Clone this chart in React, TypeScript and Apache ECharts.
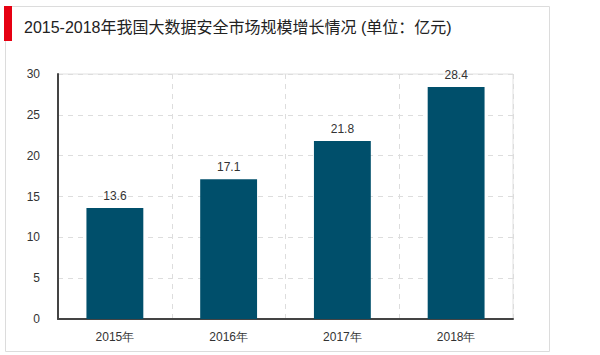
import React, { useEffect, useRef } from "react";
import * as echarts from "echarts";

const categories = ["2015年", "2016年", "2017年", "2018年"];
const values = [13.6, 17.1, 21.8, 28.4];
const titleText = "2015-2018年我国大数据安全市场规模增长情况 (单位：亿元)";

export default function App() {
  const ref = useRef<HTMLDivElement>(null);
  useEffect(() => {
    document.body.style.margin = "0";
    const chart = echarts.init(ref.current!, null, { renderer: "svg" });
    chart.setOption({
      animation: false,
      backgroundColor: "#fff",
      textStyle: { fontFamily: "Liberation Sans, Arial, sans-serif" },
      graphic: [
        {
          type: "rect",
          shape: { x: 5.5, y: 6.5, width: 544, height: 345 },
          style: { fill: "none", stroke: "#dcdcdc", lineWidth: 1 },
        },
        {
          type: "rect",
          shape: { x: 4, y: 6, width: 8, height: 35 },
          style: { fill: "#e60012" },
        },
        {
          type: "text",
          x: 24,
          y: 27,
          style: {
            text: titleText,
            fill: "#222",
            font: "16px 'Liberation Sans', 'Noto Sans CJK SC', sans-serif",
            textVerticalAlign: "middle",
          },
        },
      ],
      grid: {
        left: 58,
        right: 87,
        top: 74,
        bottom: 36,
        show: true,
        borderColor: "#e0e0e0",
        borderWidth: 1,
      },
      xAxis: {
        type: "category",
        data: categories,
        axisLine: { lineStyle: { color: "#444", width: 2 } },
        axisTick: { show: false },
        axisLabel: { color: "#333", fontSize: 12, margin: 12 },
        splitLine: { show: true, lineStyle: { color: "#ddd", type: [5, 5] } },
      },
      yAxis: {
        type: "value",
        min: 0,
        max: 30,
        interval: 5,
        axisLine: { show: true, lineStyle: { color: "#444", width: 2 } },
        axisTick: { show: false },
        axisLabel: { color: "#333", fontSize: 12, margin: 18 },
        splitLine: { show: true, lineStyle: { color: "#ddd", type: [5, 5] } },
      },
      series: [
        {
          type: "bar",
          data: values,
          barWidth: "50%",
          itemStyle: { color: "#004f6b" },
          label: {
            show: true,
            position: "top",
            color: "#333",
            fontSize: 12,
            distance: 6,
          },
        },
      ],
    });
    return () => chart.dispose();
  }, []);
  return <div ref={ref} style={{ width: 600, height: 355 }} />;
}
